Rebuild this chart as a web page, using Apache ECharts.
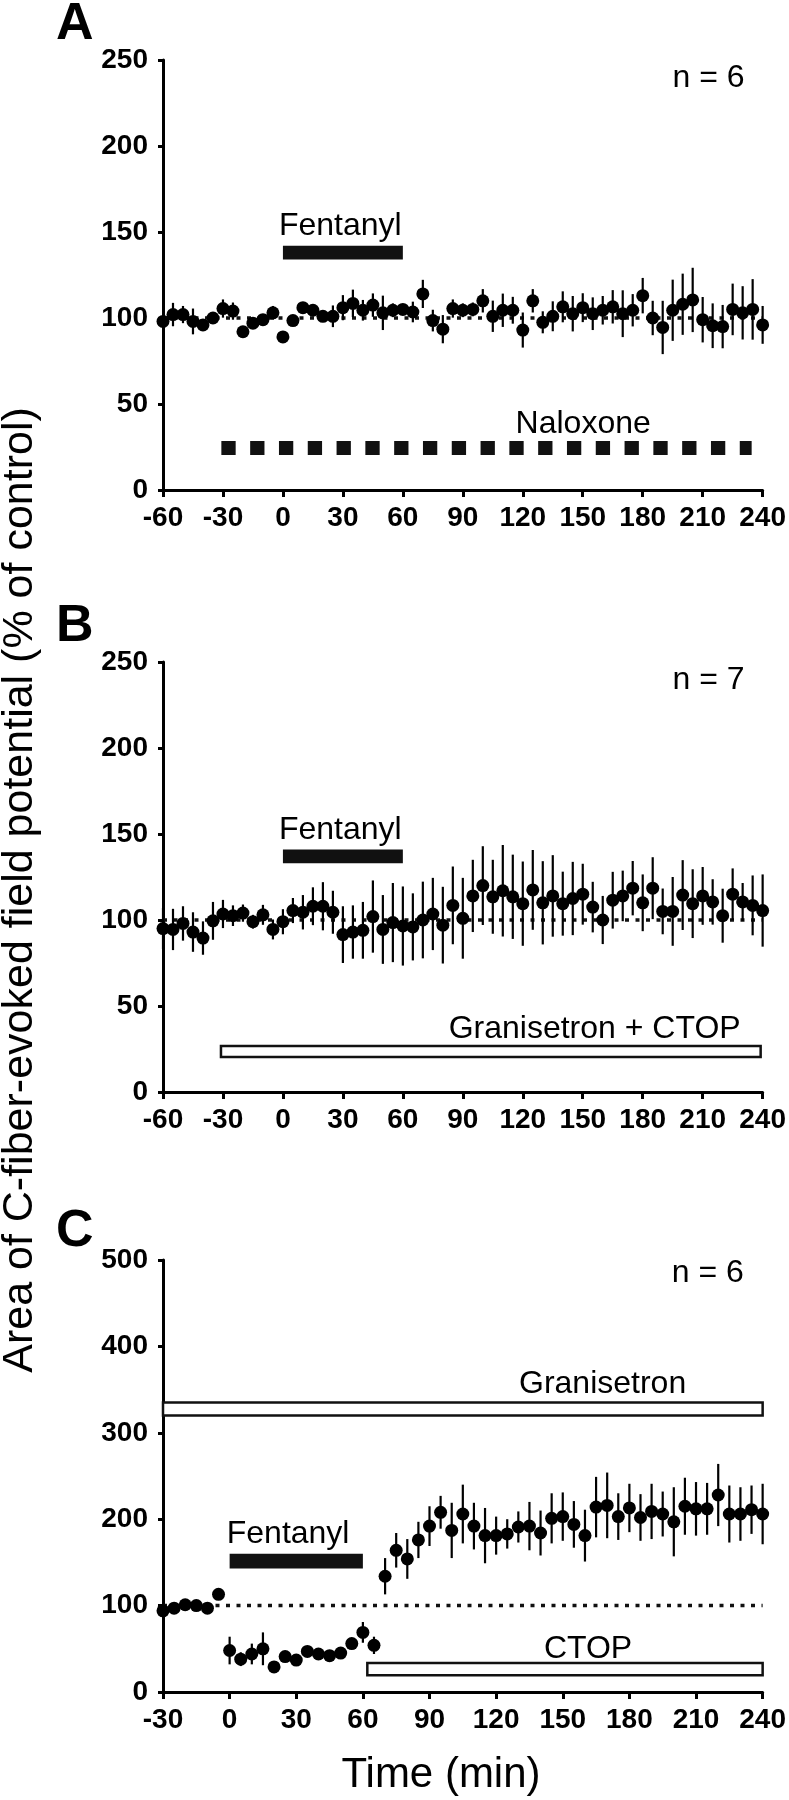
<!DOCTYPE html>
<html><head><meta charset="utf-8">
<script src="https://cdn.jsdelivr.net/npm/echarts@6/dist/echarts.min.js"></script>
<style>html,body{margin:0;padding:0;background:#fff}#c{width:789px;height:1800px}</style>
</head><body><div id="c"></div>
<script>
// ---------- data ----------
const timeAB = [-60,-55,-50,-45,-40,-35,-30,-25,-20,-15,-10,-5,0,5,10,15,20,25,30,35,40,45,50,55,60,65,70,75,80,85,90,95,100,105,110,115,120,125,130,135,140,145,150,155,160,165,170,175,180,185,190,195,200,205,210,215,220,225,230,235,240];
const meanA = [98,102,102,98,96,100,105.5,104,92,97,99,103,89,98.5,106,104.5,101,101,106,108.5,104.5,107.5,103,104.5,105,103.5,114,98.5,93.5,105.5,104.5,105,110,101,104.5,104.5,93,110,97.5,101,106.5,102.5,106,102.5,104.5,106.5,102.5,104.5,113,100,94.5,104.5,108,110.5,99,95.5,95,105,103,105,96];
const errA = [3,6.8,5,7.5,3,3,5.3,5,3,3,3,4,3,3,3,3,3,6.3,7.3,8,6,6.8,10,4,3,6,8.2,6.3,8.2,5.3,4,4,6.8,9.1,9.7,7.8,10.2,6.8,6.4,8.7,9,10.3,8.4,9.5,8.3,9.7,13.6,9.4,10.3,10,15.5,17.8,17.8,18.7,13.2,13,12.6,15,15.5,17.6,11];
const meanB = [95,94.5,98,93,89.5,99.5,103.5,102.5,104,99,103,94.5,99,105.5,104.5,108,108,104.5,91.5,93,94,102,94.5,98.5,96.5,96,100,103.5,97,108.5,101,114,120,113.5,117,113.5,109.5,117.5,110,114,109.5,112.5,115,107.5,100,111.5,114,118.5,110,118.5,105,105,114.5,109.5,114,110.5,102.5,115,110.5,108.5,105.5];
const errB = [12,12,10,11.5,9.7,11,8.2,6,5,4,5.8,5.8,7.3,7.3,10,11,14,12.5,16.5,15.5,16.5,21,20,23,23,19.5,22.3,21,22.3,22.6,23.5,21,22.9,21.5,26.6,24.5,24.5,23.2,24.2,23.7,18.6,21.3,17.7,14.7,14,16.5,14.7,15.8,16.5,18,13.3,20,20.3,20,16.8,13.2,15.7,15,11,17.4,21];
const timeC = [-30,-25,-20,-15,-10,-5,0,5,10,15,20,25,30,35,40,45,50,55,60,65,70,75,80,85,90,95,100,105,110,115,120,125,130,135,140,145,150,155,160,165,170,175,180,185,190,195,200,205,210,215,220,225,230,235,240];
const meanC = [94,97,101,100,97,113,48,38,44,50,29,41,37,47,44,42,45,56,69,54,134,164,154,176,192,208,187,206,192,181,181,183,191,192,184,201,203,194,181,214,216,203,213,202,209,206,197,215,212,212,228,206,206,211,206];
const errC = [3,3,3,3,3,3,16,8,12,19,4,4,4,6,4,4,4,4,12,10,21,20,23,21,23,19,32,34,27,32,22,17,18,28,26,29,28,27,30,35,38,27,28,27,32,26,40,33,31,30,36,33,31,28,35];

const refA = [[-60,100],[240,100]];
const refB = [[-60,100],[240,100]];
const refC = [[-30,100],[240,100]];
// treatment bars: [start, end, low, high, filled]
const barsA = [[0,60,134,142,1]];
const naloxone = [[-30.8,24.4],[234.5,24.4]];
const barsB = [[0,60,133,141,1],[-31,239,20.3,26.7,0]];
const barsC = [[0,60,143,160,1],[-30,240,320,335,0],[62,240,19.5,33.5,0]];
// labels: [time, value(baseline), text, align]
const textsA = [[-2,148,'Fentanyl','left'],[116.4,33,'Naloxone','left'],[231,234,'n = 6','right']];
const textsB = [[-2,147,'Fentanyl','left'],[229,31.4,'Granisetron + CTOP','right'],[231,234,'n = 7','right']];
const textsC = [[-1.3,172,'Fentanyl','left'],[130.3,346,'Granisetron','left'],[141.5,39,'CTOP','left'],[231.5,474,'n = 6','right']];

// ---------- chart ----------
const FONT = "'Liberation Sans', Arial, sans-serif";
const chart = echarts.init(document.getElementById('c'), null, {renderer:'canvas'});

function xAx(i, min){
  return {gridIndex:i, type:'value', min:min, max:240, interval:30,
    axisLine:{show:true, onZero:false, lineStyle:{color:'#000', width:3}},
    axisTick:{show:true, length:7, lineStyle:{color:'#000', width:3}},
    axisLabel:{show:true, showMinLabel:true, showMaxLabel:true, margin:14, color:'#000', fontFamily:FONT, fontWeight:'bold', fontSize:28},
    splitLine:{show:false}};
}
function yAx(i, max, iv){
  return {gridIndex:i, type:'value', min:0, max:max, interval:iv,
    axisLine:{show:true, onZero:false, lineStyle:{color:'#000', width:3}},
    axisTick:{show:true, length:5, lineStyle:{color:'#000', width:3}},
    axisLabel:{show:true, showMinLabel:true, showMaxLabel:true, margin:15, color:'#000', fontFamily:FONT, fontWeight:'bold', fontSize:28},
    splitLine:{show:false}};
}
function errSeries(i, t, m, e){
  return {type:'custom', xAxisIndex:i, yAxisIndex:i, clip:false, z:3,
    data: t.map((v,k)=>[v, m[k], e[k]]),
    renderItem:function(p, api){
      const x=api.value(0), mm=api.value(1), ee=api.value(2);
      const a=api.coord([x,mm-ee]), b=api.coord([x,mm+ee]);
      return {type:'line', shape:{x1:a[0],y1:a[1],x2:b[0],y2:b[1]}, style:{stroke:'#000', lineWidth:2.2}};
    }};
}
function dotSeries(i, t, m){
  return {type:'scatter', xAxisIndex:i, yAxisIndex:i, symbol:'circle', symbolSize:13, z:4,
    itemStyle:{color:'#000', opacity:1}, data:t.map((v,k)=>[v,m[k]])};
}
function refSeries(i, d){
  return {type:'line', xAxisIndex:i, yAxisIndex:i, data:d, symbol:'none', z:2, silent:true,
    lineStyle:{color:'#111', width:3.5, type:[4,6.5]}};
}
function barSeries(i, d){
  return {type:'custom', xAxisIndex:i, yAxisIndex:i, clip:false, z:5, data:d,
    renderItem:function(p, api){
      const a=api.coord([api.value(0), api.value(3)]), b=api.coord([api.value(1), api.value(2)]);
      const filled = api.value(4)===1;
      return {type:'rect', shape:{x:a[0], y:a[1], width:b[0]-a[0], height:b[1]-a[1]},
        style: filled ? {fill:'#111'} : {fill:'#fff', stroke:'#111', lineWidth:2.5}};
    }};
}
function textSeries(i, d){
  return {type:'custom', xAxisIndex:i, yAxisIndex:i, clip:false, z:6, data:d.map(r=>[r[0],r[1],r[2],r[3]]),
    dimensions:['x','y','t','a'],
    renderItem:function(p, api){
      const r=d[p.dataIndex];
      const pt=api.coord([r[0], r[1]]);
      return {type:'text', x:pt[0], y:pt[1]+7, style:{text:r[2], font:'32px '+FONT, fill:'#000', textAlign:r[3], textVerticalAlign:'bottom'}};
    }};
}

const option = {
  animation:false,
  backgroundColor:'#fff',
  grid:[
    {left:163, top:60, width:602, height:430},
    {left:163, top:662, width:602, height:430},
    {left:163, top:1260, width:603, height:432}
  ],
  xAxis:[xAx(0,-60), xAx(1,-60), xAx(2,-30)],
  yAxis:[yAx(0,250,50), yAx(1,250,50), yAx(2,500,100)],
  series:[
    refSeries(0, refA), errSeries(0, timeAB, meanA, errA), dotSeries(0, timeAB, meanA), barSeries(0, barsA),
    {type:'line', xAxisIndex:0, yAxisIndex:0, data:naloxone, symbol:'none', z:5, silent:true,
      lineStyle:{color:'#111', width:14, type:[14.3,14.5], cap:'butt'}},
    textSeries(0, textsA),
    refSeries(1, refB), errSeries(1, timeAB, meanB, errB), dotSeries(1, timeAB, meanB), barSeries(1, barsB), textSeries(1, textsB),
    refSeries(2, refC), errSeries(2, timeC, meanC, errC), dotSeries(2, timeC, meanC), barSeries(2, barsC), textSeries(2, textsC)
  ],
  graphic:[
    {type:'text', x:56, y:25, style:{text:'A', font:'bold 52px '+FONT, fill:'#000', textAlign:'left', textVerticalAlign:'middle'}},
    {type:'text', x:56, y:627, style:{text:'B', font:'bold 52px '+FONT, fill:'#000', textAlign:'left', textVerticalAlign:'middle'}},
    {type:'text', x:56, y:1232, style:{text:'C', font:'bold 52px '+FONT, fill:'#000', textAlign:'left', textVerticalAlign:'middle'}},
    {type:'text', x:20, y:890, rotation:Math.PI/2, style:{text:'Area of C-fiber-evoked field potential (% of control)', font:'43px '+FONT, fill:'#000', textAlign:'center', textVerticalAlign:'middle'}},
    {type:'text', x:441, y:1775, style:{text:'Time (min)', font:'42px '+FONT, fill:'#000', textAlign:'center', textVerticalAlign:'middle'}}
  ]
};
chart.setOption(option);
</script>
</body></html>
